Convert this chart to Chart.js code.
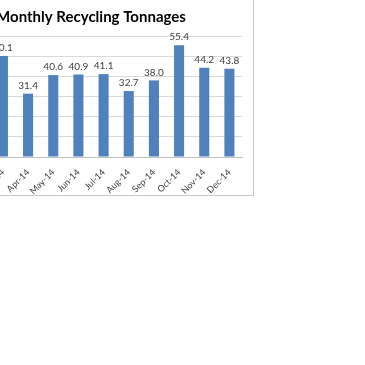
<!DOCTYPE html>
<html>
<head>
<meta charset="utf-8">
<script src="https://cdn.jsdelivr.net/npm/chart.js@4"></script>
<style>
  html, body { margin: 0; padding: 0; background: #fff; overflow: hidden; width: 365px; height: 365px; }
  #frame { position: absolute; left: -95px; top: -1px; width: 349px; height: 197px; border: 1px solid #c8c8c8; box-sizing: border-box; }
</style>
</head>
<body>
<div id="frame"><canvas id="myChart"></canvas></div>
<script>
// Monthly tonnages (Jan/Feb are outside the visible crop)
const months = ["Jan-14", "Feb-14", "Mar-14", "Apr-14", "May-14", "Jun-14", "Jul-14", "Aug-14", "Sep-14", "Oct-14", "Nov-14", "Dec-14"];
const tonnages = [null, null, 50.1, 31.4, 40.6, 40.9, 41.1, 32.7, 38.0, 55.4, 44.2, 43.8];
const yTicks = [0, 10, 20, 30, 40, 50, 60];

const FONT = "Lato, 'Liberation Sans', sans-serif";

// labels drawn on top of each bar
const barLabels = {
	id: "barLabels",
	afterDatasetsDraw(chart) {
		const c = chart.ctx;
		const meta = chart.getDatasetMeta(0);
		c.save();
		c.font = "10px " + FONT;
		c.fillStyle = "#404040";
		c.textAlign = "center";
		c.textBaseline = "bottom";
		meta.data.forEach((bar, i) => {
			const v = tonnages[i];
			if (v === null) return;
			c.fillText(v.toFixed(1), bar.x, bar.y - 3);
		});
		c.restore();
	},
};

const ctx = document.getElementById("myChart").getContext("2d");
let myChart = new Chart(ctx, {
	type: "bar",
	data: {
		labels: months,
		datasets: [
			{
				label: "Tonnes",
				data: tonnages,
				backgroundColor: "#4f81bd",
				borderWidth: 0,
				categoryPercentage: 1,
				barPercentage: 0.4,
			},
		],
	},
	options: {
		responsive: true,
		maintainAspectRatio: false,
		animation: false,
		layout: { padding: { top: 0, right: 11, bottom: 0, left: 0 } },
		plugins: {
			legend: { display: false },
			tooltip: { enabled: false },
			title: {
				display: true,
				text: "Monthly Recycling Tonnages",
				fullSize: false,
				color: "#000",
				font: { family: FONT, size: 15, weight: "bold", lineHeight: 1.2 },
				padding: { top: 8, bottom: 10 },
			},
		},
		scales: {
			x: {
				grid: { display: false },
				border: { color: "#bfbfbf" },
				afterFit(scale) { scale.height = 38; },
				ticks: {
					color: "#404040",
					font: { family: FONT, size: 9 },
					minRotation: 45,
					maxRotation: 45,
					autoSkip: false,
					padding: 2,
				},
			},
			y: {
				min: 0,
				max: 60,
				afterFit(scale) { scale.width = 34; },
				afterBuildTicks(scale) { scale.ticks = yTicks.map(v => ({ value: v })); },
				grid: { color: "#d9d9d9", drawTicks: false },
				border: { display: false },
				ticks: { color: "#404040", font: { family: FONT, size: 9 }, padding: 6 },
			},
		},
	},
	plugins: [barLabels],
});
</script>
</body>
</html>
